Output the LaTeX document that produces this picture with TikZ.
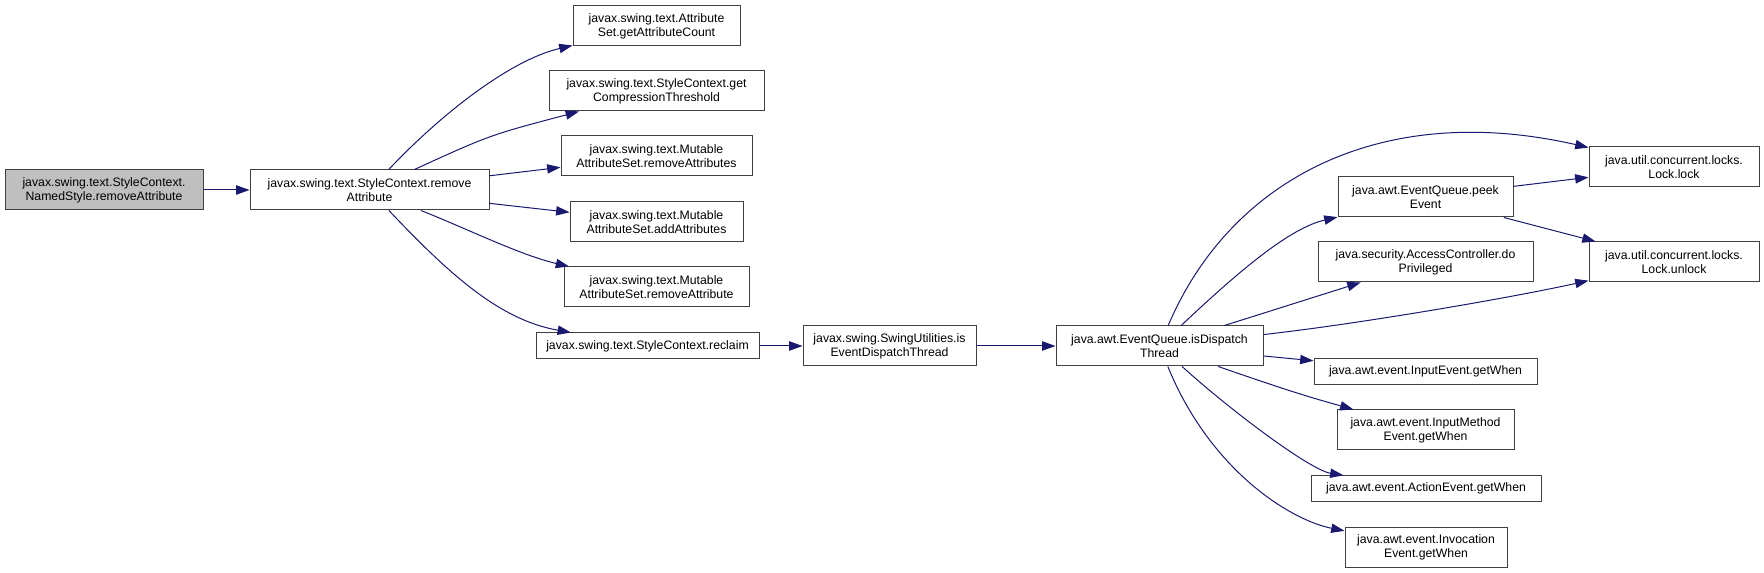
\documentclass[tikz,border=0pt]{standalone}
\usepackage{fontspec}
\setmainfont{Liberation Sans}
\usepackage{xcolor}
\usetikzlibrary{arrows.meta}
\definecolor{edgeblue}{HTML}{191970}
\definecolor{rootgray}{HTML}{BFBFBF}

\begin{document}
\begin{tikzpicture}[x=0.75pt,y=-0.75pt,
  fn/.style={draw=black!75, line width=0.75pt, fill=white, align=center,
    inner sep=0pt, font=\fontsize{9.2}{10.5}\selectfont},
  one/.style={fn, minimum height=19pt},
  two/.style={fn, minimum height=30pt},
  call/.style={edgeblue, line width=0.75pt, -{Triangle[length=10pt,width=7pt]}}]
\useasboundingbox (0,0) rectangle (1764,573);

% Caller
\node[two, fill=rootgray, minimum width=148.5pt] (root) at (104,190) {javax.swing.text.StyleContext.\\NamedStyle.removeAttribute};
\node[two, minimum width=179.25pt] (rem) at (369.5,190) {javax.swing.text.StyleContext.remove\\Attribute};

% Called by remove
\node[two, minimum width=125.25pt] (gac) at (656.5,26) {javax.swing.text.Attribute\\Set.getAttributeCount};
\node[two, minimum width=161.25pt] (gct) at (656.5,91) {javax.swing.text.StyleContext.get\\CompressionThreshold};
\node[two, minimum width=143.25pt] (ras) at (656.5,156) {javax.swing.text.Mutable\\AttributeSet.removeAttributes};
\node[two, minimum width=129.75pt] (aas) at (656.5,222) {javax.swing.text.Mutable\\AttributeSet.addAttributes};
\node[two, minimum width=138.75pt] (rma) at (656.5,287) {javax.swing.text.Mutable\\AttributeSet.removeAttribute};
\node[one, minimum width=167.25pt, minimum height=19.5pt] (rec) at (647.5,346) {javax.swing.text.StyleContext.reclaim};

% Dispatch thread chain
\node[two, minimum width=129.75pt] (su) at (889.5,346) {javax.swing.SwingUtilities.is\\EventDispatchThread};
\node[two, minimum width=155.25pt] (eq) at (1159.5,346) {java.awt.EventQueue.isDispatch\\Thread};

% Called by isDispatchThread
\node[two, minimum width=131.25pt] (pe) at (1425.5,197) {java.awt.EventQueue.peek\\Event};
\node[two, minimum width=161.25pt] (dp) at (1425.5,262) {java.security.AccessController.do\\Privileged};
\node[one, minimum width=167.25pt] (ie) at (1425.5,371.5) {java.awt.event.InputEvent.getWhen};
\node[two, minimum width=132.75pt] (im) at (1425.5,430) {java.awt.event.InputMethod\\Event.getWhen};
\node[one, minimum width=172.5pt] (ae) at (1426,488.5) {java.awt.event.ActionEvent.getWhen};
\node[two, minimum width=121.5pt] (iv) at (1426,547) {java.awt.event.Invocation\\Event.getWhen};

% Locks
\node[two, minimum width=127.5pt] (ll) at (1674,167) {java.util.concurrent.locks.\\Lock.lock};
\node[two, minimum width=127.5pt] (lu) at (1674,262) {java.util.concurrent.locks.\\Lock.unlock};

% Edges
\draw[call] (root) -- (rem);
\draw[call] (rem) .. controls (440,115) and (510,60) .. (gac);
\draw[call] (rem) .. controls (490,135) .. (gct);
\draw[call] (rem) -- (ras);
\draw[call] (rem) -- (aas);
\draw[call] (rem) .. controls (470,230) and (520,255) .. (rma);
\draw[call] (rem) .. controls (450,275) and (500,320) .. (rec);
\draw[call] (rec) -- (su);
\draw[call] (su) -- (eq);

\draw[call] (eq) .. controls (1230,180) and (1380,100) .. (ll);
\draw[call] (eq) .. controls (1240,270) and (1290,228) .. (pe);
\draw[call] (eq) -- (dp);
\draw[call] (eq) .. controls (1350,325) and (1500,300) .. (lu);
\draw[call] (eq) -- (ie);
\draw[call] (eq) .. controls (1300,395) and (1320,400) .. (im);
\draw[call] (eq) .. controls (1230,410) and (1310,470) .. (ae);
\draw[call] (eq) .. controls (1210,470) and (1290,520) .. (iv);

\draw[call] (pe) -- (ll);
\draw[call] (pe) -- (lu);
\end{tikzpicture}
\end{document}
